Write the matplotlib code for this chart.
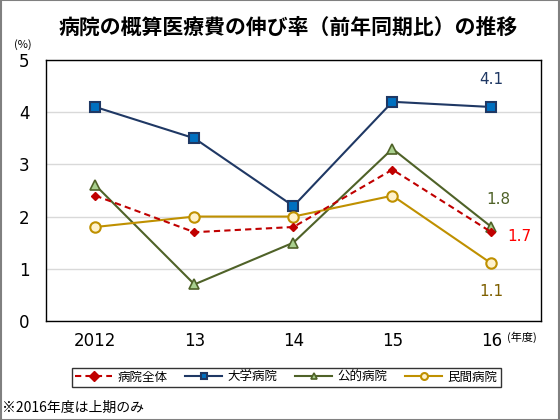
import matplotlib
matplotlib.use("Agg")
import matplotlib.pyplot as plt
from matplotlib.patches import Rectangle

plt.rcParams['font.family'] = ['DejaVu Sans', 'Noto Sans CJK JP']

years = ["2012", "13", "14", "15", "16"]
all_hosp = [2.4, 1.7, 1.8, 2.9, 1.7]
univ = [4.1, 3.5, 2.2, 4.2, 4.1]
public = [2.6, 0.7, 1.5, 3.3, 1.8]
private = [1.8, 2.0, 2.0, 2.4, 1.1]
names = ["病院全体", "大学病院", "公的病院", "民間病院"]

fig = plt.figure(figsize=(5.6, 4.2), dpi=100)
ax = fig.add_axes([0.082, 0.236, 0.884, 0.621])
x = range(len(years))

ax.plot(x, all_hosp, color="#C00000", ls=(0, (3, 2)), lw=1.5, marker="D",
        ms=4.5, mfc="#C00000", mec="#C00000", label=names[0], zorder=4)
ax.plot(x, univ, color="#1F3864", lw=1.5, marker="s", ms=7,
        mfc="#0070C0", mec="#1F3864", mew=1.5, label=names[1], zorder=3)
ax.plot(x, public, color="#4F6228", lw=1.5, marker="^", ms=7,
        mfc="#A9D08E", mec="#4F6228", mew=1.2, label=names[2], zorder=3)
ax.plot(x, private, color="#BF9000", lw=1.5, marker="o", ms=7.5,
        mfc="#FFF2CC", mec="#BF9000", mew=1.5, label=names[3], zorder=3)

ax.set_xlim(-0.5, len(years) - 0.5)
ax.set_ylim(0, 5)
ax.set_xticks(list(x))
ax.set_xticklabels(years, fontsize=12)
ax.set_yticks(range(6))
ax.tick_params(axis="both", length=0, labelsize=12)
ax.tick_params(axis="y", pad=12)
ax.tick_params(axis="x", pad=8)
ax.grid(axis="y", color="#D9D9D9", lw=1)
ax.set_axisbelow(True)
for s in ax.spines.values():
    s.set_color("black")
    s.set_linewidth(1)

# end labels
last = len(years) - 1
ax.annotate(f"{univ[-1]}", (last, univ[-1]), xytext=(0, 20), textcoords="offset points",
            ha="center", va="center", color="#1F3864", fontsize=11)
ax.annotate(f"{public[-1]}", (last, public[-1]), xytext=(5, 20), textcoords="offset points",
            ha="center", va="center", color="#4F6228", fontsize=11)
ax.annotate(f"{all_hosp[-1]}", (last, all_hosp[-1]), xytext=(20, -3), textcoords="offset points",
            ha="center", va="center", color="#FF0000", fontsize=11)
ax.annotate(f"{private[-1]}", (last, private[-1]), xytext=(0, -20), textcoords="offset points",
            ha="center", va="center", color="#7F6000", fontsize=11)

fig.text(0.515, 0.935, "病院の概算医療費の伸び率（前年同期比）の推移",
         ha="center", va="center", fontsize=15, fontweight="bold",
         family=["Noto Sans CJK JP"])
fig.text(0.04, 0.895, "(%)", ha="center", va="center", fontsize=8,
         family=["Noto Sans CJK JP"])
fig.text(0.932, 0.198, "(年度)", ha="center", va="center", fontsize=8,
         family=["Noto Sans CJK JP"])

leg = fig.legend(loc="center", bbox_to_anchor=(0.511, 0.102), ncol=4,
                 prop={"family": ["Noto Sans CJK JP"], "size": 9},
                 frameon=True, fancybox=False, handlelength=3.0,
                 columnspacing=1.4, borderpad=0.25, handletextpad=0.4)
leg.get_frame().set_edgecolor("black")
leg.get_frame().set_linewidth(1)
for h in leg.legend_handles:
    h.set_markersize(5)

fig.text(0.004, 0.028, "※2016年度は上期のみ", ha="left", va="center", fontsize=10,
         family=["Noto Sans CJK JP"])

fig.patches.append(Rectangle((0.001, 0.001), 0.998, 0.998, transform=fig.transFigure,
                             fill=False, edgecolor="#808080", lw=1.5))

fig.savefig("out.png", dpi=100)
